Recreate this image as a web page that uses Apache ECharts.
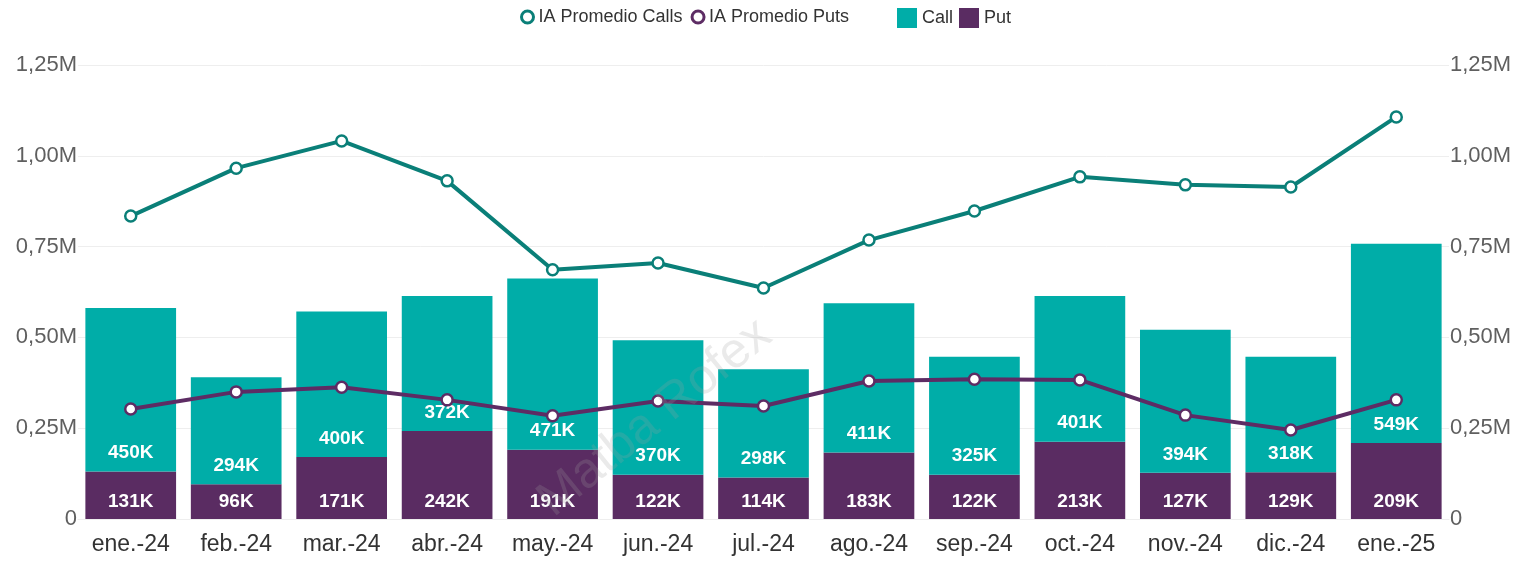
<!DOCTYPE html>
<html>
<head>
<meta charset="utf-8">
<script src="https://cdn.jsdelivr.net/npm/echarts@6/dist/echarts.min.js"></script>
<style>
  html, body { margin: 0; padding: 0; background: #fff; }
  #main { width: 1525px; height: 572px; }
</style>
</head>
<body>
<div id="main"></div>
<script>
var months = ['ene.-24','feb.-24','mar.-24','abr.-24','may.-24','jun.-24','jul.-24','ago.-24','sep.-24','oct.-24','nov.-24','dic.-24','ene.-25'];
var putVol = [131000,96000,171000,242000,191000,122000,114000,183000,122000,213000,127000,129000,209000];
var callVol = [450000,294000,400000,372000,471000,370000,298000,411000,325000,401000,394000,318000,549000];
var iaCalls = [834000,966000,1041000,931000,686000,705000,636000,768000,848000,942000,920000,914000,1107000];
var iaPuts = [303000,350000,363000,328000,284000,325000,311000,380000,385000,383000,286000,245000,328000];

var font = '"Liberation Sans", Arial, sans-serif';
var tealLine = '#0a7f78', purpleLine = '#5d2c64';

function fmtAxis(v) {
  if (v === 0) return '0';
  return (v / 1e6).toFixed(2).replace('.', ',') + 'M';
}
function fmtK(p) {
  return Math.round(p.value / 1000) + 'K';
}

var chart = echarts.init(document.getElementById('main'));

var yAxisBase = {
  type: 'value',
  min: 0,
  max: 1250000,
  interval: 250000,
  axisLine: { show: false },
  axisTick: { show: false },
  axisLabel: { formatter: fmtAxis, color: '#5f5f5f', fontSize: 22, fontFamily: font, margin: 1 }
};

var legendText = { fontSize: 18, color: '#333', fontFamily: font };

var option = {
  backgroundColor: '#fff',
  textStyle: { fontFamily: font },
  legend: [
    {
      top: 3,
      left: 515,
      itemGap: 8,
      itemWidth: 12,
      itemHeight: 12,
      textStyle: legendText,
      data: [
        { name: 'IA Promedio Calls', icon: 'circle', itemStyle: { color: '#fff', borderColor: tealLine, borderWidth: 3 } },
        { name: 'IA Promedio Puts', icon: 'circle', itemStyle: { color: '#fff', borderColor: purpleLine, borderWidth: 3 } }
      ]
    },
    {
      top: 3,
      left: 892,
      itemGap: 6,
      itemWidth: 20,
      itemHeight: 20,
      textStyle: legendText,
      data: [
        { name: 'Call', icon: 'rect' },
        { name: 'Put', icon: 'rect' }
      ]
    }
  ],
  grid: { left: 78, right: 76, top: 65, bottom: 53 },
  xAxis: {
    type: 'category',
    data: months,
    axisLine: { show: true, lineStyle: { color: '#eeeeee' } },
    axisTick: { show: false },
    axisLabel: { color: '#333', fontSize: 23, fontFamily: font, margin: 14, interval: 0 }
  },
  yAxis: [
    Object.assign({}, yAxisBase, {
      splitLine: { show: true, lineStyle: { color: '#eeeeee', width: 1 } }
    }),
    Object.assign({}, yAxisBase, { splitLine: { show: false } })
  ],
  graphic: [{
    type: 'text',
    x: 655,
    y: 418,
    rotation: 0.68,
    style: {
      text: 'Matba Rofex',
      fontSize: 50,
      fontFamily: font,
      align: 'center',
      verticalAlign: 'middle',
      fill: 'rgba(160,160,160,0.22)'
    },
    z: 100
  }],
  series: [
    {
      name: 'Put',
      type: 'bar',
      stack: 'vol',
      barCategoryGap: '14%',
      data: putVol,
      itemStyle: { color: '#5a2c62' },
      label: {
        show: true, position: 'insideBottom', distance: 8,
        formatter: fmtK, color: '#fff', fontWeight: 'bold', fontSize: 19, fontFamily: font
      }
    },
    {
      name: 'Call',
      type: 'bar',
      stack: 'vol',
      data: callVol,
      itemStyle: { color: '#00ada8' },
      label: {
        show: true, position: 'insideBottom', distance: 9,
        formatter: fmtK, color: '#fff', fontWeight: 'bold', fontSize: 19, fontFamily: font
      }
    },
    {
      name: 'IA Promedio Calls',
      type: 'line',
      yAxisIndex: 1,
      data: iaCalls,
      symbol: 'circle',
      symbolSize: 11,
      lineStyle: { color: tealLine, width: 4 },
      itemStyle: { color: '#fff', borderColor: tealLine, borderWidth: 2.5 },
      z: 5
    },
    {
      name: 'IA Promedio Puts',
      type: 'line',
      yAxisIndex: 1,
      data: iaPuts,
      symbol: 'circle',
      symbolSize: 11,
      lineStyle: { color: purpleLine, width: 4 },
      itemStyle: { color: '#fff', borderColor: purpleLine, borderWidth: 2.5 },
      z: 5
    }
  ]
};

chart.setOption(option);
</script>
</body>
</html>
